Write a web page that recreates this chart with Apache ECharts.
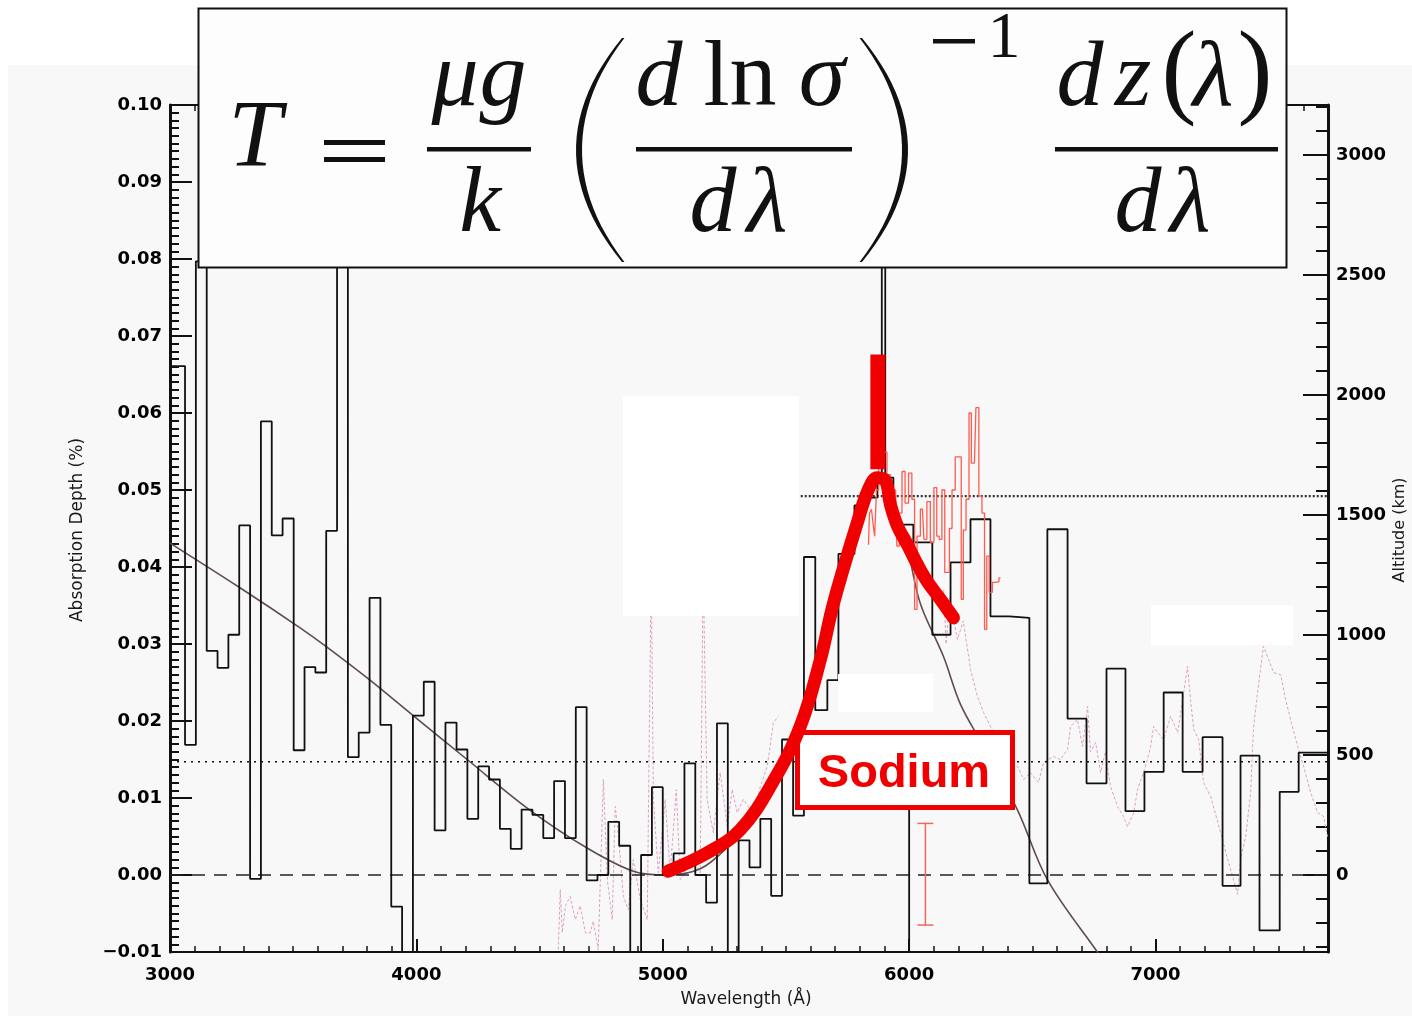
<!DOCTYPE html>
<html>
<head>
<meta charset="utf-8" />
<title>Sodium absorption depth</title>
<script src="https://cdn.jsdelivr.net/npm/echarts@6/dist/echarts.min.js"></script>
<style>
html, body { margin: 0; padding: 0; background: #fff; }
#main { width: 1412px; height: 1016px; }
</style>
</head>
<body>
<div id="main"></div>
<script>
var chart = echarts.init(document.getElementById('main'));

// black low-resolution histogram: left bin edges (A), last entry is the right end
var binEdges = [3000, 3061, 3105, 3149, 3193, 3237, 3281, 3325, 3369, 3413, 3457,
  3502, 3546, 3590, 3634, 3678, 3722, 3766, 3810, 3854, 3898, 3942, 3986, 4030,
  4074, 4118, 4163, 4207, 4251, 4295, 4339, 4383, 4427, 4471, 4515, 4559, 4603,
  4647, 4691, 4735, 4779, 4823, 4868, 4912, 4956, 5000, 5044, 5088, 5132, 5176,
  5220, 5264, 5308, 5352, 5396, 5440, 5484, 5529, 5573, 5619, 5668, 5713, 5778,
  5826, 5871, 5889, 5903, 5936, 6017, 6094, 6168, 6249, 6330, 6407, 6488, 6561,
  6643, 6720, 6801, 6878, 6955, 7033, 7110, 7191, 7272, 7345, 7422, 7504, 7581, 7700];
var binDepth = [0.0661, 0.0169, 0.0797, 0.0291, 0.0269, 0.0312, 0.0454, -0.0005,
  0.0589, 0.0441, 0.0463, 0.0162, 0.027, 0.0263, 0.0447, 0.085, 0.0153, 0.0185,
  0.036, 0.0195, -0.0041, -0.02, 0.0207, 0.0251, 0.0058, 0.0198, 0.0163, 0.0073,
  0.0141, 0.0124, 0.006, 0.0034, 0.0085, 0.0078, 0.0048, 0.0122, 0.0048, 0.0218,
  -0.0007, 0.0, 0.0069, 0.0038, -0.02, 0.0026, 0.0114, 0.0, 0.0028, 0.0145, 0.0,
  -0.0036, 0.0197, -0.02, 0.0045, 0.001, 0.0073, -0.0027, 0.0176, 0.0077,
  0.0413, 0.0214, 0.0253, 0.0417, 0.048, 0.049, 0.0516, 0.095, 0.0516, 0.0455,
  0.0432, 0.0312, 0.0406, 0.0462, 0.0336, 0.0334, -0.0011, 0.0449, 0.0203,
  0.0119, 0.0268, 0.0083, 0.0134, 0.0237, 0.0134, 0.0179, -0.0014, 0.0155,
  -0.0072, 0.0108, 0.0159];

// stray bin edge below the label box
var edgeWave = [6000, 6000];
var edgeDepth = [0.0086, -0.012];

// smooth model curve
var modelWave = [3000, 3284, 3528, 3637, 3808, 3987, 4206, 4462, 4693, 4880, 5018,
  5152, 5262, 5400, 5550, 5700, 5800, 5860, 5900, 5950, 5995, 6046, 6139, 6208,
  6302, 6439, 6561, 6764, 6820];
var modelDepth = [0.0431, 0.0373, 0.0321, 0.0296, 0.0254, 0.0207, 0.015, 0.0084,
  0.0035, 0.0005, 0.0, 0.0008, 0.0036, 0.0085, 0.018, 0.034, 0.046, 0.052, 0.051,
  0.046, 0.042, 0.0352, 0.0284, 0.0222, 0.0167, 0.0085, -0.0006, -0.01, -0.0125];

// pink high-resolution spectrum (two visible stretches)
var pinkWaveA = [4576, 4584, 4592, 4605, 4624, 4645, 4665, 4686, 4706, 4718, 4738,
  4759, 4775, 4795, 4807, 4819, 4840, 4860, 4880, 4909, 4937, 4953, 4962, 4982,
  5010, 5030, 5055, 5071, 5099, 5124, 5152, 5164, 5180, 5205, 5233, 5262, 5282,
  5302, 5327, 5367, 5396, 5424, 5449, 5469];
var pinkDepthA = [-0.0097, -0.0019, -0.0075, -0.004, -0.0028, -0.0058, -0.004,
  -0.0075, -0.0075, -0.006, -0.0097, 0.0124, -0.0006, -0.0058, 0.0089, 0.0055,
  -0.0028, -0.0045, 0.002, -0.0032, -0.0058, 0.04, 0.0098, 0.0003, 0.0098, 0.0003,
  0.0111, -0.0006, 0.001, 0.002, 0.0003, 0.04, 0.0098, 0.0055, 0.0133, 0.0063,
  0.0111, 0.0081, 0.0098, 0.008, 0.0115, 0.0141, 0.0198, 0.0206];
var pinkWaveB = [6140, 6150, 6165, 6180, 6196, 6220, 6249, 6277, 6302, 6330, 6371,
  6411, 6440, 6465, 6492, 6525, 6545, 6586, 6614, 6643, 6655, 6683, 6704, 6724,
  6736, 6757, 6777, 6797, 6817, 6846, 6870, 6886, 6911, 6927, 6951, 6967, 6980,
  6992, 7008, 7033, 7061, 7090, 7110, 7130, 7142, 7155, 7175, 7195, 7224, 7264,
  7293, 7313, 7333, 7345, 7366, 7386, 7398, 7414, 7426, 7438, 7459, 7479, 7508,
  7528, 7548, 7577, 7601, 7630, 7658, 7682, 7698];
var pinkDepthB = [0.037, 0.030, 0.036, 0.0332, 0.0306, 0.033, 0.0267, 0.0232,
  0.0211, 0.0193, 0.0167, 0.0146, 0.0141, 0.0124, 0.0133, 0.012, 0.0146, 0.0154,
  0.015, 0.0163, 0.0193, 0.0202, 0.0167, 0.0219, 0.016, 0.0172, 0.0133, 0.016,
  0.0115, 0.0089, 0.0076, 0.0063, 0.008, 0.0111, 0.0133, 0.015, 0.0167, 0.0193,
  0.0185, 0.0176, 0.0206, 0.0185, 0.0228, 0.0271, 0.0228, 0.0189, 0.0176, 0.012,
  0.0102, 0.0055, 0.002, -0.0002, -0.0025, 0.002, 0.005, 0.0107, 0.0193, 0.0237,
  0.0267, 0.0297, 0.028, 0.0263, 0.026, 0.0228, 0.0202, 0.0167, 0.0141, 0.0107,
  0.0081, 0.0076, 0.005];

// red thin spectrum around the sodium doublet
var naWave = [5835, 5843, 5851, 5857, 5863, 5872, 5880, 5890, 5905, 5915, 5932,
  5945, 5955, 5965, 5977, 5990, 6005, 6017, 6027, 6037, 6054, 6066, 6078, 6094,
  6107, 6117, 6127, 6139, 6150, 6159, 6168, 6180, 6194, 6208, 6215, 6225, 6237,
  6249, 6256, 6265, 6277, 6289, 6302, 6310, 6320, 6330, 6345, 6358, 6371];
var naDepth = [0.0429, 0.047, 0.0475, 0.0455, 0.044, 0.05, 0.06, 0.058, 0.0549,
  0.052, 0.05, 0.05, 0.0427, 0.047, 0.0524, 0.0483, 0.0522, 0.0488, 0.0345, 0.044,
  0.0475, 0.0436, 0.0485, 0.0432, 0.0503, 0.044, 0.0436, 0.05, 0.0393, 0.0393,
  0.045, 0.05, 0.0543, 0.0543, 0.0358, 0.0448, 0.0488, 0.06, 0.0535, 0.0535,
  0.0607, 0.0492, 0.047, 0.0319, 0.0414, 0.0367, 0.038, 0.0381, 0.0386];

// error bar
var errWave = [6066];
var errLow = [-0.0065];
var errHigh = [0.0067];

// hand-drawn red annotation
var sketchWave = [5022, 5182, 5315, 5449, 5558, 5640, 5693, 5790, 5835, 5871, 5904,
  5924, 5953, 5993, 6034, 6074, 6127, 6180];
var sketchDepth = [0.0005, 0.0029, 0.0059, 0.0122, 0.0193, 0.028, 0.0353, 0.0458,
  0.0501, 0.0516, 0.0512, 0.0481, 0.0453, 0.0429, 0.0403, 0.0381, 0.0358, 0.0334];
var barWave = [5873, 5873];
var barDepth = [0.0527, 0.0676];

// reference levels
var noiseLevel = 0.0147;
var upperLevel = 0.0492;
var upperStart = 5560;

// altitude axis
var kmPerDepth = 32083;
var altLabels = [0, 500, 1000, 1500, 2000, 2500, 3000];
var altMinor = [];
for (var a = -300; a <= 3200; a += 100) altMinor.push(a);

function zip(xs, ys) {
  return xs.map(function (x, i) { return [x, ys[i]]; });
}
var histData = binEdges.map(function (x, i) {
  return [x, binDepth[Math.min(i, binDepth.length - 1)]];
});

var ink = '#111';
var labelFont = 'DejaVu Sans';

function glyph(str, cx, base, size, italic) {
  return {
    type: 'text', z: 201, x: cx, y: base - 0.3375 * size,
    style: {
      text: str, align: 'center', verticalAlign: 'middle',
      textAlign: 'center', textVerticalAlign: 'middle',
      fontFamily: 'Liberation Serif', fontStyle: italic ? 'italic' : 'normal',
      fontSize: size, fill: ink
    }
  };
}
// big bracket: outer arc through (x0,yTop) (xMid,mid) (x0,yBot), stroke tapering to the ends
function paren(x0, yTop, yBot, xMid, thick, dir) {
  var outer = [], inner = [], t, u, c = 2 * xMid - x0, x, y, w;
  for (t = 0; t <= 1.0001; t += 0.04) {
    u = 1 - t;
    x = u * u * x0 + 2 * t * u * c + t * t * x0;
    y = yTop + (yBot - yTop) * t;
    w = thick * (0.4 + 0.6 * Math.sin(Math.PI * t));
    outer.push([x, y]);
    inner.unshift([x + dir * w, y]);
  }
  return { type: 'polygon', z: 201, shape: { points: outer.concat(inner) }, style: { fill: ink } };
}
function bar(x, y, w, h) {
  return { type: 'rect', z: 201, shape: { x: x, y: y, width: w, height: h }, style: { fill: ink } };
}
function patch(x, y, w, h) {
  return { type: 'rect', z: 50, shape: { x: x, y: y, width: w, height: h }, style: { fill: '#ffffff' } };
}
function axisText(str, x, y, size, rot) {
  return {
    type: 'text', z: 10, x: x, y: y, rotation: rot,
    style: {
      text: str, align: 'center', verticalAlign: 'middle',
      textAlign: 'center', textVerticalAlign: 'middle',
      fontFamily: labelFont, fontSize: size, fill: '#1a1a1a'
    }
  };
}

var graphics = [
  { type: 'rect', z: -10, shape: { x: 8, y: 65, width: 1404, height: 951 }, style: { fill: '#f8f8f8' } },
  patch(623, 396, 176, 220),
  patch(838, 674, 95, 38),
  patch(1151, 605, 142, 40),
  { type: 'rect', z: 60, shape: { x: 797.5, y: 732.5, width: 215, height: 75 },
    style: { fill: '#ffffff', stroke: '#f00000', lineWidth: 5 } },
  { type: 'text', z: 61, x: 904, y: 790 - 0.3465 * 47,
    style: { text: 'Sodium', align: 'center', verticalAlign: 'middle', textAlign: 'center',
      textVerticalAlign: 'middle', fontFamily: 'Liberation Sans', fontWeight: 'bold',
      fontSize: 47, fill: '#f00000' } },
  axisText('Absorption Depth (%)', 78, 530, 17, Math.PI / 2),
  axisText('Wavelength (\u00c5)', 746, 1000, 17, 0),
  axisText('Altitude (km)', 1400, 530, 16, Math.PI / 2),
  // formula box
  { type: 'rect', z: 200, shape: { x: 198.5, y: 8.5, width: 1088, height: 259 },
    style: { fill: '#fcfdfc', stroke: ink, lineWidth: 2 } },
  glyph('T', 255, 173, 96, true),
  bar(324, 140, 61, 5), bar(324, 157, 61, 5),
  glyph('\u03bc', 455, 112, 94, true), glyph('g', 503, 112, 94, true),
  bar(427, 147, 104, 4.5),
  glyph('k', 480, 238, 94, true),
  paren(622, 38, 262, 576, 6, 1),
  glyph('d', 659, 112, 94, true), glyph('ln', 740, 112, 94, false), glyph('\u03c3', 822, 112, 94, true),
  bar(636, 147, 216, 4.5),
  glyph('d', 713, 238, 94, true), glyph('\u03bb', 767, 238, 94, true),
  paren(862, 38, 262, 908, 6, -1),
  bar(933, 39, 42, 4.5), glyph('1', 1004, 62, 66, false),
  glyph('d', 1080, 112, 94, true), glyph('z', 1133, 112, 94, true),
  glyph('(', 1179, 112, 105, false), glyph('\u03bb', 1213, 112, 94, true),
  glyph(')', 1255, 112, 105, false),
  bar(1055, 147, 223, 4.5),
  glyph('d', 1138, 238, 94, true), glyph('\u03bb', 1190, 238, 94, true)
];

function xAx(pos, interval, len, showLine, showLabel) {
  return {
    type: 'value', position: pos, min: 3000, max: 7700, interval: interval,
    axisLine: { show: showLine, onZero: false, lineStyle: { color: ink, width: 2 } },
    axisTick: { inside: true, length: len, lineStyle: { color: ink, width: interval === 1000 ? 2 : 1.5 } },
    axisLabel: {
      show: showLabel, margin: 14, color: '#000', fontFamily: labelFont, fontWeight: 'bold', fontSize: 18,
      formatter: function (v) { return v % 1000 === 0 ? String(v) : ''; }
    },
    splitLine: { show: false }
  };
}

var option = {
  backgroundColor: '#ffffff',
  animation: false,
  grid: { left: 170, right: 84, top: 105, bottom: 64 },
  xAxis: [
    xAx('bottom', 1000, 13, true, true),
    xAx('bottom', 100, 6, false, false),
    xAx('top', 100, 6, false, false),
    xAx('top', 1000, 13, true, false)
  ],
  yAxis: [
    {
      type: 'value', position: 'left', min: -0.01, max: 0.10, interval: 0.01,
      axisLine: { onZero: false, lineStyle: { color: ink, width: 3 } },
      axisTick: { inside: true, length: 22, lineStyle: { color: ink, width: 2 } },
      minorTick: { show: true, splitNumber: 10, length: 9, lineStyle: { color: ink, width: 2 } },
      axisLabel: {
        margin: 8, color: '#000', fontFamily: labelFont, fontWeight: 'bold', fontSize: 18,
        formatter: function (v) { return (v < -1e-9 ? '\u2212' : '') + Math.abs(v).toFixed(2); }
      },
      splitLine: { show: false }
    },
    {
      type: 'value', position: 'right', min: -0.01 * kmPerDepth, max: 0.10 * kmPerDepth,
      axisLine: { onZero: false, lineStyle: { color: ink, width: 3 } },
      axisTick: { inside: true, length: 25, customValues: altLabels, lineStyle: { color: ink, width: 2 } },
      axisLabel: {
        margin: 8, customValues: altLabels, color: '#000', fontFamily: labelFont, fontWeight: 'bold', fontSize: 18,
        formatter: function (v) { return String(Math.round(v)); }
      },
      splitLine: { show: false }
    },
    {
      type: 'value', position: 'right', min: -0.01 * kmPerDepth, max: 0.10 * kmPerDepth,
      axisLine: { show: false, onZero: false },
      axisTick: { inside: true, length: 12, customValues: altMinor, lineStyle: { color: ink, width: 2 } },
      axisLabel: { show: false },
      splitLine: { show: false }
    }
  ],
  graphic: { elements: graphics },
  series: [
    { type: 'line', data: zip(pinkWaveA, pinkDepthA), symbol: 'none', silent: true, z: 2,
      lineStyle: { color: '#dba2c5', width: 1, type: [3, 2] } },
    { type: 'line', data: zip(pinkWaveB, pinkDepthB), symbol: 'none', silent: true, z: 2,
      lineStyle: { color: '#dba2c5', width: 1, type: [3, 2] } },
    { type: 'line', data: zip(modelWave, modelDepth), smooth: 0.35, symbol: 'none', silent: true, z: 3,
      lineStyle: { color: '#604c4c', width: 1.6 } },
    { type: 'line', data: [[3000, noiseLevel], [7700, noiseLevel]], symbol: 'none', silent: true, z: 3,
      lineStyle: { color: ink, width: 1.4, type: [2, 5] } },
    { type: 'line', data: [[upperStart, upperLevel], [7700, upperLevel]], symbol: 'none', silent: true, z: 3,
      lineStyle: { color: '#333', width: 2.2, type: [2, 2] } },
    { type: 'line', data: [[3000, 0], [7700, 0]], symbol: 'none', silent: true, z: 3,
      lineStyle: { color: '#222', width: 1.4, type: [13, 9] } },
    { type: 'line', step: 'end', data: histData, symbol: 'none', silent: true, z: 4,
      lineStyle: { color: ink, width: 1.8 } },
    { type: 'line', data: zip(edgeWave, edgeDepth), symbol: 'none', silent: true, z: 4,
      lineStyle: { color: ink, width: 1.8 } },
    { type: 'line', step: 'middle', data: zip(naWave, naDepth), symbol: 'none', silent: true, z: 5,
      lineStyle: { color: '#ff5b4f', width: 1.3 } },
    {
      type: 'custom', silent: true, z: 5,
      data: errWave.map(function (w, i) { return [w, errLow[i], errHigh[i]]; }),
      renderItem: function (params, api) {
        var lo = api.coord([api.value(0), api.value(1)]);
        var hi = api.coord([api.value(0), api.value(2)]);
        var cap = 8, st = { stroke: '#f2665c', lineWidth: 1.5 };
        return { type: 'group', children: [
          { type: 'line', shape: { x1: lo[0], y1: lo[1], x2: hi[0], y2: hi[1] }, style: st },
          { type: 'line', shape: { x1: lo[0] - cap, y1: lo[1], x2: lo[0] + cap, y2: lo[1] }, style: st },
          { type: 'line', shape: { x1: hi[0] - cap, y1: hi[1], x2: hi[0] + cap, y2: hi[1] }, style: st }
        ] };
      }
    },
    { type: 'line', data: zip(sketchWave, sketchDepth), smooth: 0.4, symbol: 'none', silent: true, z: 100,
      lineStyle: { color: '#f00000', width: 13, cap: 'round', join: 'round' } },
    { type: 'line', data: zip(barWave, barDepth), symbol: 'none', silent: true, z: 100,
      lineStyle: { color: '#f00000', width: 15, cap: 'butt' } }
  ]
};

chart.setOption(option);
</script>
</body>
</html>
